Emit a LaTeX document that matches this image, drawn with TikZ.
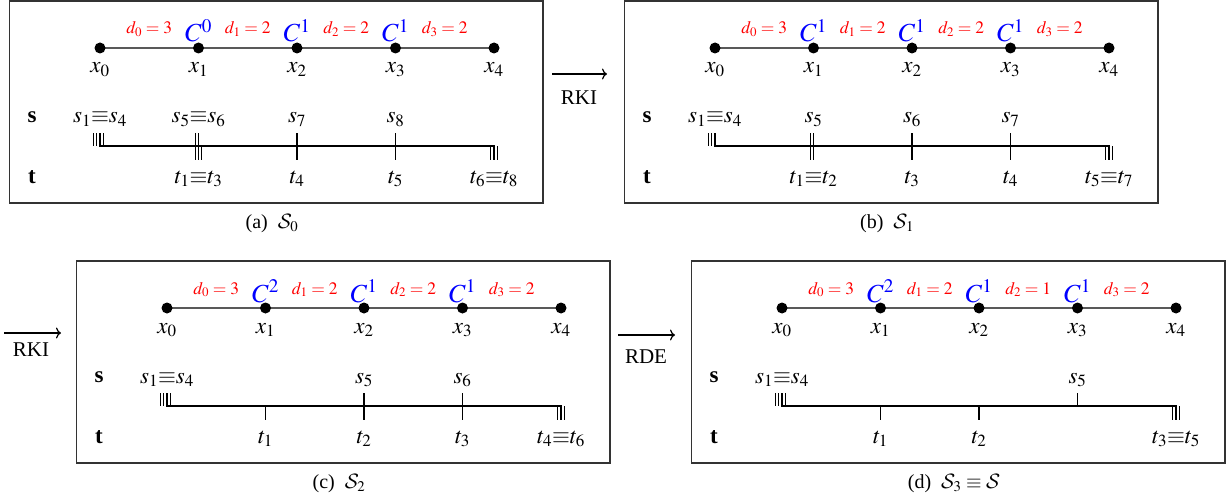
\documentclass[tikz,border=0pt]{standalone}
\usepackage{mathptmx}
\DeclareMathAlphabet{\mathcal}{OMS}{cmsy}{m}{n}
\usepackage[no-math]{fontspec}
\setmainfont{Liberation Serif}
\usetikzlibrary{arrows.meta}
\tikzset{
  panelbox/.style={draw=black!80, line width=1.2pt},
  xline/.style={draw=black!65, line width=1.2pt},
  dot/.style={circle, fill=black, inner sep=0pt, minimum size=11pt},
  lab/.style={anchor=base, inner sep=0pt, font=\fontsize{21}{25}\selectfont},
  mlab/.style={anchor=base, inner sep=0pt, font=\fontsize{23}{27}\selectfont},
  blab/.style={anchor=base, inner sep=0pt, font=\fontsize{23}{27}\selectfont\bfseries},
  dlab/.style={anchor=base, inner sep=0pt, text=red, font=\fontsize{17.5}{21}\selectfont},
  clab/.style={anchor=base, inner sep=0pt, text=blue, font=\fontsize{26}{30}\selectfont},
  captext/.style={anchor=base, inner sep=0pt, font=\fontsize{20}{24}\selectfont},
  tl/.style={line width=1.1pt},
  tk/.style={line width=1.1pt},
  flow/.style={-{To[length=5pt,width=11pt]}, line width=1.2pt}
}
\newcommand\eqv{\mathord{\equiv}}
% tick helpers: #1 index of point, #2 offset
\newcommand\tku[2]{\draw[tk] ({100+98.5*#1+#2},133) -- ++(0,13);}
\newcommand\tkd[2]{\draw[tk] ({100+98.5*#1+#2},146) -- ++(0,14);}
\newcommand\tkb[2]{\draw[tk] ({100+98.5*#1+#2},133) -- ++(0,27);}
% labels: #1 name, #2 index, #3 text
\newcommand\slab[3]{\node[mlab] (#1) at ({100+98.5*#2},123) {$#3$};}
\newcommand\tlab[3]{\node[mlab] (#1) at ({100+98.5*#2},183) {$#3$};}
% panel: #1 prefix, #2 dx, #3 dy, #4 d values, #5 C exponents, #6 caption, #7 body
\newcommand\drawpanel[7]{%
\begin{scope}[shift={(#2,#3)}]
  \draw[panelbox] (9.5,1) rectangle (543,203);
  \foreach \i in {0,...,4} {\coordinate (#1p\i) at ({100+98.5*\i},48);}
  \draw[xline] (#1p0) -- (#1p4);
  \foreach \i in {0,...,4} {
    \node[dot] (#1dot\i) at (#1p\i) {};
    \node[mlab] (#1x\i) at ({100+98.5*\i},73) {$x_{\i}$};
  }
  \foreach \v [count=\i from 0] in {#4} {
    \node[dlab] (#1dl\i) at ({149.25+98.5*\i},34) {$d_{\i} = \v$};
  }
  \foreach \v [count=\i] in {#5} {
    \node[clab] (#1c\i) at ({100+98.5*\i},42) {$C^{\v}$};
  }
  \node[blab] (#1S) at (32,122) {s};
  \node[blab] (#1T) at (32,183) {t};
  \coordinate (#1s0) at (99,146);
  \coordinate (#1s4) at (495,146);
  \draw[tl] (#1s0) -- (#1s4);
  #7
  \node[captext] (#1cap) at (272,228) {#6};
\end{scope}}

\begin{document}
\begin{tikzpicture}[x=1pt,y=-1pt]
\useasboundingbox (0,0) rectangle (1230,500);

\drawpanel{a}{0}{0}{3,2,2,2}{0,1,1}{(a)\enspace$\mathcal{S}_0$}{%
  \tku{0}{-6.7}\tku{0}{-3.3}\tku{0}{0}\tku{0}{3.3}
  \tkb{1}{-3.3}\tkb{1}{0}\tkd{1}{3.3}
  \tkb{2}{0}
  \tkb{3}{0}
  \tkd{4}{-3.3}\tkd{4}{0}\tkd{4}{3.3}
  \slab{as0}{0}{s_1\eqv s_4}
  \slab{as1}{1}{s_5\eqv s_6}
  \slab{as2}{2}{s_7}
  \slab{as3}{3}{s_8}
  \tlab{at1}{1}{t_1\eqv t_3}
  \tlab{at2}{2}{t_4}
  \tlab{at3}{3}{t_5}
  \tlab{at4}{4}{t_6\eqv t_8}
}

\drawpanel{b}{615}{0}{3,2,2,2}{1,1,1}{(b)\enspace$\mathcal{S}_1$}{%
  \tku{0}{-6.7}\tku{0}{-3.3}\tku{0}{0}
  \tkb{1}{-3.3}\tkb{1}{0}
  \tkb{2}{0}
  \tkb{3}{0}
  \tkd{4}{-3.3}\tkd{4}{0}\tkd{4}{3.3}
  \slab{bs0}{0}{s_1\eqv s_4}
  \slab{bs1}{1}{s_5}
  \slab{bs2}{2}{s_6}
  \slab{bs3}{3}{s_7}
  \tlab{bt1}{1}{t_1\eqv t_2}
  \tlab{bt2}{2}{t_3}
  \tlab{bt3}{3}{t_4}
  \tlab{bt4}{4}{t_5\eqv t_7}
}

\drawpanel{c}{67}{260}{3,2,2,2}{2,1,1}{(c)\enspace$\mathcal{S}_2$}{%
  \tku{0}{-6.7}\tku{0}{-3.3}\tku{0}{0}\tku{0}{3.3}
  \tkd{1}{0}
  \tkb{2}{0}
  \tkb{3}{0}
  \tkd{4}{-3.3}\tkd{4}{0}\tkd{4}{3.3}
  \slab{cs0}{0}{s_1\eqv s_4}
  \slab{cs2}{2}{s_5}
  \slab{cs3}{3}{s_6}
  \tlab{ct1}{1}{t_1}
  \tlab{ct2}{2}{t_2}
  \tlab{ct3}{3}{t_3}
  \tlab{ct4}{4}{t_4\eqv t_6}
}

\drawpanel{d}{682}{260}{3,2,1,2}{2,1,1}{(d)\enspace$\mathcal{S}_3\equiv\mathcal{S}$}{%
  \tku{0}{-6.7}\tku{0}{-3.3}\tku{0}{0}\tku{0}{3.3}
  \tkd{1}{0}
  \tkd{2}{0}
  \tku{3}{0}
  \tkd{4}{-3.3}\tkd{4}{0}\tkd{4}{3.3}
  \slab{ds0}{0}{s_1\eqv s_4}
  \slab{ds3}{3}{s_5}
  \tlab{dt1}{1}{t_1}
  \tlab{dt2}{2}{t_2}
  \tlab{dt4}{4}{t_3\eqv t_5}
}

% transitions
\coordinate (r1a) at (552,74);
\coordinate (r1b) at (607,74);
\draw[flow] (r1a) -- (r1b);
\node[lab] (rki1) at (579,105) {RKI};

\coordinate (r2a) at (4,333);
\coordinate (r2b) at (61,333);
\draw[flow] (r2a) -- (r2b);
\node[lab] (rki2) at (31,356) {RKI};

\coordinate (r3a) at (618,335);
\coordinate (r3b) at (675,335);
\draw[flow] (r3a) -- (r3b);
\node[lab] (rde) at (646,363) {RDE};
\end{tikzpicture}
\end{document}
